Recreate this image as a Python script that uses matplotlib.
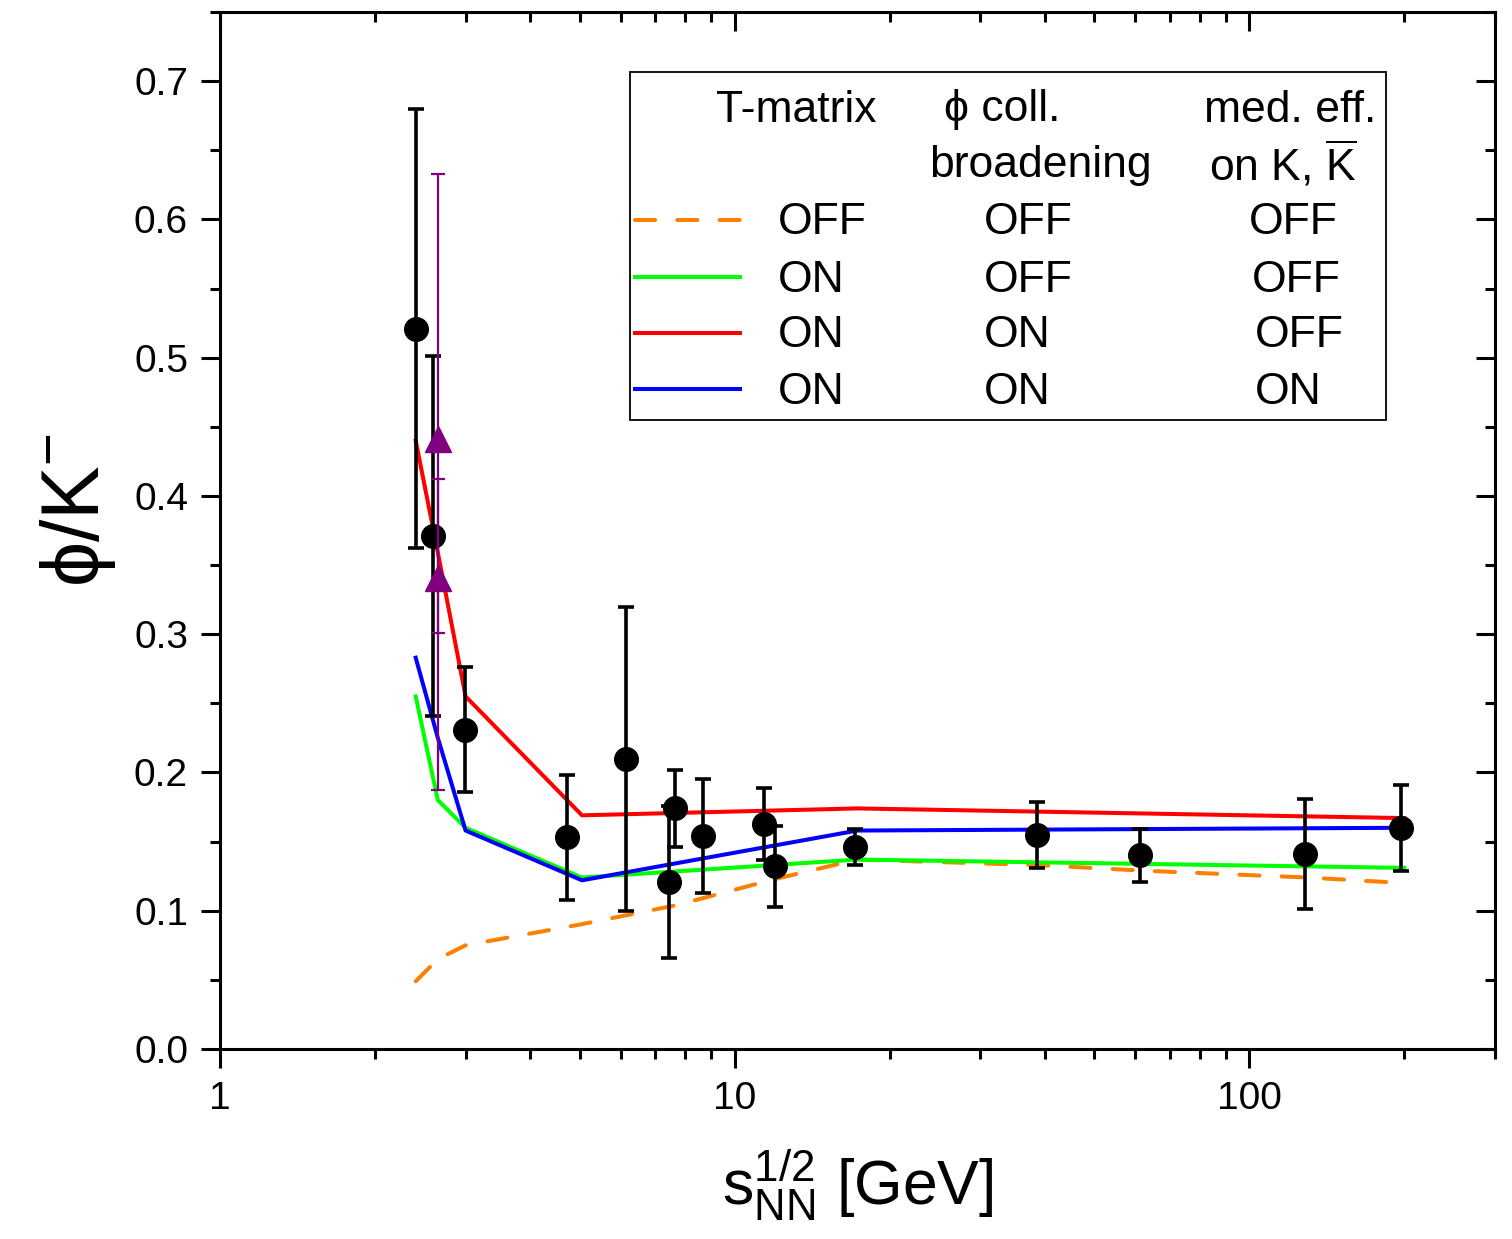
import matplotlib
matplotlib.use('Agg')
import matplotlib.pyplot as plt
from matplotlib.ticker import LogLocator, MultipleLocator, NullFormatter
from matplotlib.lines import Line2D
from matplotlib.patches import Rectangle

plt.rcParams['font.family'] = ['Liberation Sans', 'DejaVu Sans']
plt.rcParams['mathtext.fontset'] = 'custom'
plt.rcParams['mathtext.rm'] = 'Liberation Sans'
plt.rcParams['mathtext.it'] = 'Liberation Sans'
plt.rcParams['mathtext.bf'] = 'Liberation Sans:bold'

# measured phi/K- ratios
x_data = [2.40, 2.59, 2.99, 4.72, 6.15, 7.46, 7.66, 8.69, 11.4, 12.0, 17.1, 38.7, 61.4, 128.5, 197.0]
y_data = [0.521, 0.371, 0.231, 0.153, 0.210, 0.121, 0.174, 0.154, 0.163, 0.132, 0.146, 0.155, 0.140, 0.141, 0.160]
y_err = [0.159, 0.130, 0.045, 0.045, 0.110, 0.055, 0.028, 0.041, 0.026, 0.029, 0.013, 0.024, 0.019, 0.040, 0.031]

# second set (triangles), asymmetric errors
x_tri = [2.65, 2.65]
y_tri = [0.441, 0.341]
tri_lo = [0.140, 0.154]
tri_hi = [0.192, 0.071]

# model curves
x_off = [2.40, 2.65, 3.0, 5.0, 7.7, 12.0, 17.3, 39.0, 62.0, 130.0, 200.0]
y_off = [0.049, 0.065, 0.075, 0.090, 0.104, 0.123, 0.137, 0.133, 0.129, 0.124, 0.120]
x_mod = [2.40, 2.65, 3.0, 5.05, 17.3, 200.0]
y_tmat = [0.255, 0.180, 0.160, 0.124, 0.137, 0.131]
y_coll = [0.440, 0.359, 0.255, 0.169, 0.174, 0.167]
y_full = [0.283, 0.225, 0.158, 0.122, 0.158, 0.160]

fig = plt.figure(figsize=(15.12, 12.39), dpi=100)
ax = fig.add_axes([220/1512, 1 - 1049/1239, 1275/1512, 1037/1239])

lw = 2.9
ax.plot(x_off, y_off, color='#FF8000', lw=lw, dashes=(5, 5.5), dash_capstyle='round')
ax.plot(x_mod, y_tmat, color='#00FF00', lw=lw)
ax.plot(x_mod, y_coll, color='#FF0000', lw=lw)
ax.plot(x_mod, y_full, color='#0000FF', lw=lw)

ax.errorbar(x_data, y_data, yerr=y_err, fmt='o', color='black', ms=17,
            elinewidth=2.6, capsize=5.5, capthick=2.6, zorder=5)
ax.errorbar(x_tri, y_tri, yerr=[tri_lo, tri_hi], fmt='^', color='#800080', ms=19,
            elinewidth=1.6, capsize=5, capthick=1.6, zorder=6)

ax.set_xscale('log')
ax.set_xlim(1, 300)
ax.set_ylim(0, 0.75)
ax.set_xticks([1, 10, 100])
ax.set_xticklabels(['1', '10', '100'])
ax.xaxis.set_minor_locator(LogLocator(base=10, subs=range(2, 10)))
ax.xaxis.set_minor_formatter(NullFormatter())
ax.set_yticks([0.0, 0.1, 0.2, 0.3, 0.4, 0.5, 0.6, 0.7])
ax.set_yticklabels(['0.0', '0.1', '0.2', '0.3', '0.4', '0.5', '0.6', '0.7'])
ax.yaxis.set_minor_locator(MultipleLocator(0.05))
ax.tick_params(which='major', direction='out', length=14, width=2.2, labelsize=28, pad=9)
ax.tick_params(which='minor', direction='out', length=7, width=2.2)
for s in ax.spines.values():
    s.set_linewidth(2.2)

# inward ticks on top and right
top = ax.twiny()
top.set_xscale('log')
top.set_xlim(1, 300)
top.set_xticks([1, 10, 100])
top.xaxis.set_minor_locator(LogLocator(base=10, subs=range(2, 10)))
top.xaxis.set_minor_formatter(NullFormatter())
top.tick_params(which='major', direction='in', length=14, width=2.2, labeltop=False)
top.tick_params(which='minor', direction='in', length=7, width=2.2)
right = ax.twinx()
right.set_ylim(0, 0.75)
right.set_yticks([0.0, 0.1, 0.2, 0.3, 0.4, 0.5, 0.6, 0.7])
right.yaxis.set_minor_locator(MultipleLocator(0.05))
right.tick_params(which='major', direction='in', length=14, width=2.2, labelright=False)
right.tick_params(which='minor', direction='in', length=7, width=2.2)

ax.set_xlabel(r'$\mathrm{s}_{\mathrm{NN}}^{1/2}$ [GeV]', fontsize=45, labelpad=22)
ax.set_ylabel(r'ϕ/K$^{-}$', fontsize=58)
ax.yaxis.set_label_coords(-0.080, 0.52)

# legend drawn as a table
def px(x, y):
    return x / 1512, 1 - y / 1239

box = Rectangle(px(630, 420), 756 / 1512, 348 / 1239, transform=fig.transFigure,
                facecolor='white', edgecolor='black', lw=1.3, zorder=10)
fig.patches.append(box)

fs = 32
heads = [('T-matrix', 796, 110), ('ϕ coll.', 1002, 110), ('broadening', 1040, 166),
         ('med. eff.', 1290, 110), (r'on K, $\overline{\mathrm{K}}$', 1283, 164)]
for txt, hx, hy in heads:
    fig.text(*px(hx, hy), txt, fontsize=fs, ha='center', va='center', zorder=11)

rows = [('#FF8000', True, 'OFF', 'OFF', 'OFF', 220, 1249),
        ('#00FF00', False, 'ON', 'OFF', 'OFF', 277, 1252),
        ('#FF0000', False, 'ON', 'ON', 'OFF', 333, 1255),
        ('#0000FF', False, 'ON', 'ON', 'ON', 389, 1255)]
for c, dashed, a, b, d, ry, c3 in rows:
    x0, y0 = px(635, ry)
    x1, _ = px(740, ry)
    ln = Line2D([x0, x1], [y0, y0], transform=fig.transFigure, color=c, lw=lw, zorder=11)
    if dashed:
        ln.set_dashes((5, 5.5))
        ln.set_dash_capstyle('round')
    fig.lines.append(ln)
    for t, cx in zip([a, b, d], [778, 984, c3]):
        fig.text(*px(cx, ry + 3), t, fontsize=fs, ha='left', va='center', zorder=11)

fig.savefig('out.png', dpi=100)
